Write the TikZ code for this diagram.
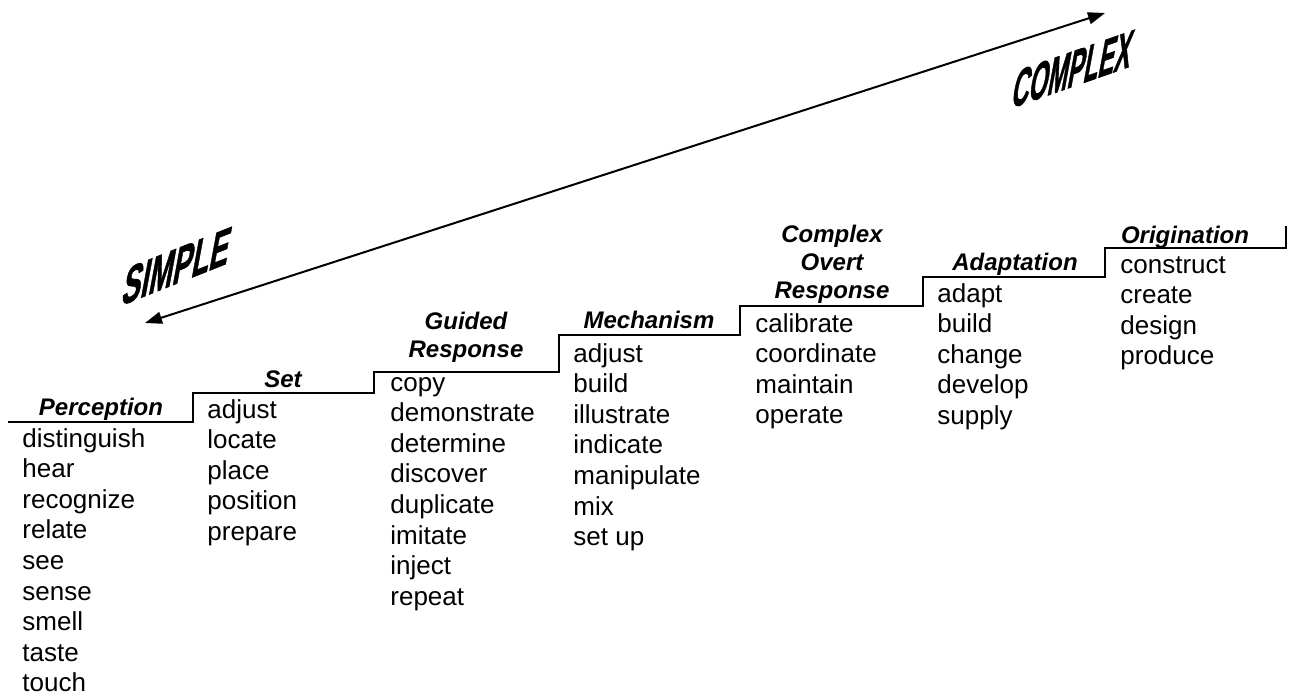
\documentclass[tikz,border=0pt]{standalone}
\usepackage{fontspec}
\setmainfont{Liberation Sans}
\newfontfamily\tagfont[FakeBold=1.5]{Liberation Sans Bold}
\usetikzlibrary{arrows.meta}
\newcommand{\rowgap}{30.6}
\tikzset{
    word/.style={anchor=base west, inner sep=0pt, font=\fontsize{13}{15}\selectfont},
    level/.style={anchor=base, inner sep=0pt, align=center, font=\fontsize{12}{14}\selectfont\bfseries\itshape},
    stair/.style={line width=1pt, line join=miter},
    ends/.style={line width=1pt, {Triangle[length=8.5pt,width=6pt]}-{Triangle[length=8.5pt,width=6pt]}},
    tilted/.style={inner sep=0pt, font=\fontsize{21}{21}\selectfont\tagfont}
}

\begin{document}
\begin{tikzpicture}[x=0.5pt, y=-0.5pt]
    \useasboundingbox (0,0) rectangle (1289,698);

    % the steps
    \draw[stair] (8,422) -- (193,422) -- (193,393) -- (374,393) -- (374,372)
        -- (559,372) -- (559,335) -- (740,335) -- (740,306) -- (923,306)
        -- (923,277) -- (1105,277) -- (1105,248) -- (1286,248) -- (1286,226);

    % simple to complex
    \coordinate (low) at (145,323);
    \coordinate (high) at (1105,13);
    \draw[ends] (low) -- (high);
    \node[tilted, cm={0.68,0.27,0.24,1.3,(0,0)}] (simpleTag) at (177,266) {SIMPLE};
    \node[tilted, cm={0.57,0.2,0.24,1.3,(0,0)}] (complexTag) at (1073,69) {COMPLEX};

    % level names
    \node[level] (perception) at (101,415) {Perception};
    \node[level] (set) at (283,387) {Set};
    \node[level] (guided) at (466,357) {Guided\\Response};
    \node[level] (mechanism) at (649,328) {Mechanism};
    \node[level] (overt) at (832,298) {Complex\\Overt\\Response};
    \node[level] (adaptation) at (1015,270) {Adaptation};
    \node[level] (origination) at (1185,243) {Origination};

    % verbs
    \foreach \w [count=\i from 0] in {distinguish, hear, recognize, relate, see, sense, smell, taste, touch}
        \node[word] (perc\i) at (22, {447+\i*\rowgap}) {\w};
    \foreach \w [count=\i from 0] in {adjust, locate, place, position, prepare}
        \node[word] (set\i) at (207, {418+\i*\rowgap}) {\w};
    \foreach \w [count=\i from 0] in {copy, demonstrate, determine, discover, duplicate, imitate, inject, repeat}
        \node[word] (guid\i) at (390, {391+\i*\rowgap}) {\w};
    \foreach \w [count=\i from 0] in {adjust, build, illustrate, indicate, manipulate, mix, set up}
        \node[word] (mech\i) at (573, {362+\i*\rowgap}) {\w};
    \foreach \w [count=\i from 0] in {calibrate, coordinate, maintain, operate}
        \node[word] (over\i) at (755, {332+\i*\rowgap}) {\w};
    \foreach \w [count=\i from 0] in {adapt, build, change, develop, supply}
        \node[word] (adap\i) at (937, {302+\i*\rowgap}) {\w};
    \foreach \w [count=\i from 0] in {construct, create, design, produce}
        \node[word] (orig\i) at (1120, {273+\i*\rowgap}) {\w};
\end{tikzpicture}
\end{document}
